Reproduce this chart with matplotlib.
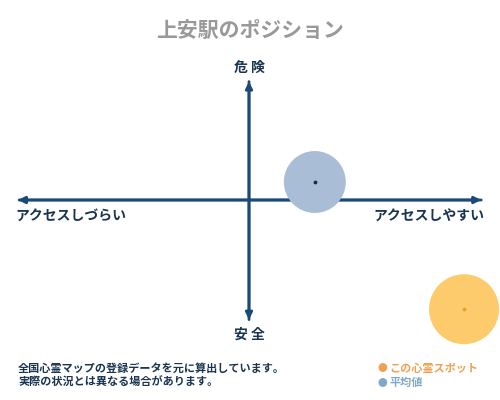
import matplotlib.pyplot as plt

plt.rcParams['font.family'] = ['Noto Sans CJK JP', 'DejaVu Sans']

# position values (access: -1 hard .. 1 easy, danger: -1 safe .. 1 dangerous)
labels = ['平均値', 'この心霊スポット']
access = [0.28, 0.915]
danger = [0.15, -0.91]
fill_colors = ['#a9bdd6', '#fdca6c']
dot_colors = ['#1a2a3a', '#f0a020']
sizes = [1990, 2540]

navy = '#1c4a78'
text_col = '#1a3550'

fig = plt.figure(figsize=(5, 4), dpi=100)
ax = fig.add_axes([0, 0, 1, 1])
# centre of cross at pixel (249, 200); 235 px per unit in x, 120 px per unit in y
ax.set_xlim(-249 / 235, 251 / 235)
ax.set_ylim(-200 / 120, 200 / 120)
ax.axis('off')

# axes arrows
arrow = dict(arrowstyle='-|>', color=navy, lw=2, mutation_scale=10)
ax.annotate('', xy=(-0.995, 0), xytext=(1.0, 0), arrowprops=arrow)
ax.annotate('', xy=(1.0, 0), xytext=(-0.99, 0), arrowprops=arrow)
ax.annotate('', xy=(0, 1.01), xytext=(0, -1.02), arrowprops=arrow)
ax.annotate('', xy=(0, -1.02), xytext=(0, 1.01), arrowprops=arrow)

# bubbles
for i in range(len(labels)):
    ax.scatter(access[i], danger[i], s=sizes[i], color=fill_colors[i],
               edgecolors='none', zorder=3, clip_on=False)
    ax.scatter(access[i], danger[i], s=3, color=dot_colors[i], zorder=4)

# axis labels
ax.text(0, 1.1, '危 険', ha='center', va='center', fontsize=10,
        fontweight='bold', color=text_col)
ax.text(0, -1.12, '安 全', ha='center', va='center', fontsize=10,
        fontweight='bold', color=text_col)
ax.text(-0.995, -0.13, 'アクセスしづらい', ha='left', va='center', fontsize=10,
        fontweight='bold', color=text_col)
ax.text(1.0, -0.14, 'アクセスしやすい', ha='right', va='center', fontsize=10,
        fontweight='bold', color=text_col)

fig.text(0.5, 0.925, '上安駅のポジション', ha='center', va='center',
         fontsize=15, fontweight='bold', color='#999999')

# notes
fig.text(0.036, 0.08, '全国心霊マップの登録データを元に算出しています。',
         ha='left', va='center', fontsize=8, fontweight='bold', color=text_col)
fig.text(0.036, 0.043, '実際の状況とは異なる場合があります。',
         ha='left', va='center', fontsize=8, fontweight='bold', color=text_col)

# legend
fig.text(0.755, 0.08, '●', ha='left', va='center', fontsize=7, color='#f0a050')
fig.text(0.778, 0.08, 'この心霊スポット', ha='left', va='center', fontsize=8,
         fontweight='bold', color='#f0a050')
fig.text(0.755, 0.043, '●', ha='left', va='center', fontsize=7, color='#80a8c8')
fig.text(0.778, 0.043, '平均値', ha='left', va='center', fontsize=8,
         fontweight='bold', color='#80a8c8')

fig.savefig('out.png', dpi=100)
